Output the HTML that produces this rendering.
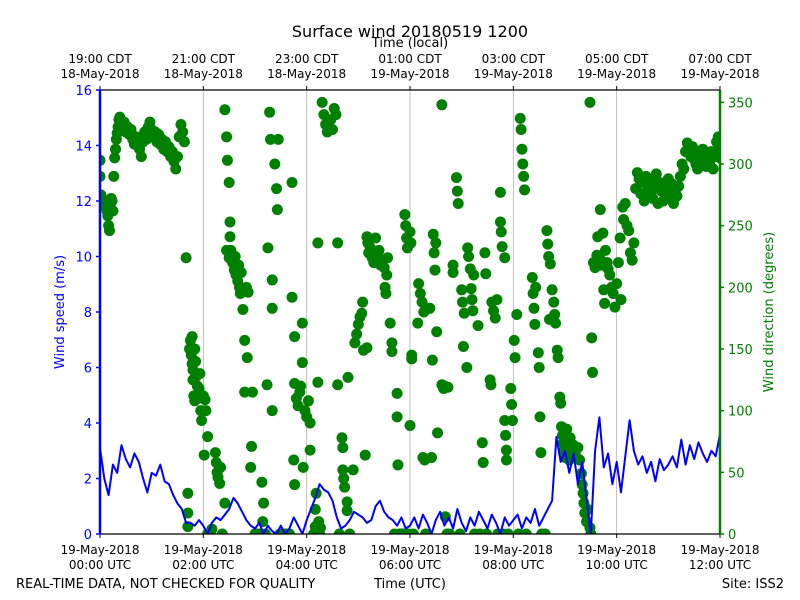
<!DOCTYPE html>
<html><head><meta charset="utf-8"><style>
body{margin:0;background:#fff;}
svg{display:block;font-family:"DejaVu Sans","Liberation Sans",sans-serif;}
</style></head><body>
<svg id="chart" width="800" height="600" viewBox="0 0 800 600" xmlns="http://www.w3.org/2000/svg">
<defs><clipPath id="plotclip"><rect x="100" y="90" width="620" height="444"/></clipPath></defs>
<rect width="800" height="600" fill="#fff"/>
<text x="410" y="37" font-size="16" text-anchor="middle">Surface wind 20180519 1200</text>
<text x="410" y="47" font-size="13" text-anchor="middle">Time (local)</text>
<text x="16" y="588" font-size="13">REAL-TIME DATA, NOT CHECKED FOR QUALITY</text>
<text x="410" y="588" font-size="13" text-anchor="middle">Time (UTC)</text>
<text x="784" y="588" font-size="13" text-anchor="end">Site: ISS2</text>
<text transform="translate(64,312) rotate(-90)" font-size="13" fill="#0000ff" text-anchor="middle">Wind speed (m/s)</text>
<text transform="translate(773,312) rotate(-90)" font-size="13" fill="#008000" text-anchor="middle">Wind direction (degrees)</text>
<g id="grid"></g>
<g id="marks" clip-path="url(#plotclip)"></g>
<g id="axes"></g>
</svg>
<script>
const xTickHours = [0,2,4,6,8,10,12];
const utcLabels = ["00:00 UTC","02:00 UTC","04:00 UTC","06:00 UTC","08:00 UTC","10:00 UTC","12:00 UTC"];
const utcDates = ["19-May-2018","19-May-2018","19-May-2018","19-May-2018","19-May-2018","19-May-2018","19-May-2018"];
const localLabels = ["19:00 CDT","21:00 CDT","23:00 CDT","01:00 CDT","03:00 CDT","05:00 CDT","07:00 CDT"];
const localDates = ["18-May-2018","18-May-2018","18-May-2018","19-May-2018","19-May-2018","19-May-2018","19-May-2018"];
const speedTicks = [0,2,4,6,8,10,12,14,16];
const dirTicks = [0,50,100,150,200,250,300,350];
const speedStepMin = 5;
const speedValues = [3.1,2.0,1.4,2.5,2.2,3.2,2.7,2.4,2.9,2.6,2.0,1.5,
2.2,2.1,2.5,1.9,1.8,1.4,1.1,0.9,0.4,0.4,0.3,0.5,
0.3,0.0,0.4,0.6,0.5,0.7,0.9,1.3,1.1,0.8,0.5,0.3,
0.2,0.4,0.0,0.3,0.1,0.0,0.3,0.0,0.2,0.6,0.3,0.0,
0.5,0.9,1.3,1.8,1.6,1.5,1.2,0.6,0.2,0.3,0.5,0.8,
0.7,0.6,0.4,0.5,1.0,1.2,0.8,0.6,0.5,0.3,0.6,0.2,
0.3,0.6,0.2,0.7,0.4,0.0,0.5,0.8,0.3,0.6,0.2,0.9,
0.4,0.1,0.6,0.3,0.8,0.5,0.2,0.7,0.4,0.0,0.6,0.3,
0.5,0.7,0.2,0.6,0.4,0.9,0.3,0.6,0.9,1.2,3.5,2.6,
3.0,2.2,2.9,1.8,2.6,1.3,0.0,3.0,4.2,2.4,2.9,1.8,
2.6,1.5,2.8,4.1,3.0,2.5,2.8,2.2,2.6,1.9,2.7,2.3,
2.5,2.8,2.4,3.4,2.5,3.2,2.7,3.3,2.9,2.6,3.0,2.8,3.6];
const dirObs = [[0,303],[0,290],[1,275],[2,272],[3,270],[4,268],[5,266],[6,270],[7,265],[8,262],[9,258],[10,250],[11,246],[12,268],[13,272],[14,270],[15,262],[16,290],[17,305],[18,312],[19,320],[20,325],[21,330],[22,336],[23,338],
[24,332],[26,328],[28,334],[30,326],[32,330],[34,324],[36,328],[38,320],[40,316],[42,322],[44,318],[46,312],[48,306],[50,318],[52,326],[54,320],[56,330],[58,334],[60,328],[62,322],[64,326],[66,318],[68,324],[70,316],[72,320],[74,312],[76,318],[78,310],[80,314],[82,306],[84,310],[86,302],[88,296],[90,306],[92,322],[94,332],[96,326],[98,318],
[100,224],[102,6],[102,17],[102,33],[104,150],[105,157],[106,145],[107,160],[107,138],[108,133],[108,125],[109,112],[110,108],[110,150],[111,140],[112,128],[113,120],[114,110],[115,118],[116,130],[117,100],[118,92],[120,112],[121,64],[122,109],[123,100],[125,79],[125,0],[128,0],[130,4],[134,66],[135,58],[136,50],[137,46],[139,41],[140,54],[142,0],[145,25],[145,344],[147,322],[148,303],[150,285],[151,253],[151,241],[147,230],[150,224],[152,230],[154,220],[156,214],[157,225],[158,210],[160,205],[161,218],[162,200],[163,195],[164,212],[166,182],[168,157],[168,115],[170,200],[171,143],[172,196],[175,54],[176,71],[177,115],[180,0],[183,0],[186,0],[188,42],[189,10],[190,25],[192,0],[194,121],[195,232],[197,342],[198,320],[200,206],[200,183],[200,100],[203,300],[205,280],[206,263],[207,320],[209,0],[212,0],[215,0],[218,0],[220,0],[223,285],[223,192],[225,60],[226,160],[226,40],[226,122],[228,110],[230,104],[232,115],[233,120],[235,171],[235,139],[236,54],[238,100],[240,95],[242,108],[244,90],[244,68],[248,0],[250,6],[250,20],[251,33],[253,236],[253,123],[254,10],[255,0],[256,5],[258,350],[260,340],[262,332],[264,326],[266,330],[268,336],[270,328],[272,345],[274,340],[276,236],[276,121],[278,0],[281,78],[282,70],[282,52],[283,45],[284,38],[287,26],[287,19],[288,127],[290,0],[294,52],[296,155],[298,162],[300,170],[302,176],[304,179],[305,188],[306,149],[308,64],[310,151],[310,241],[311,236],[312,228],[314,232],[316,224],[318,220],[320,240],[322,226],[324,230],[326,218],[328,222],[330,216],[331,200],[332,195],[333,210],[334,224],[337,171],[339,155],[339,148],[342,0],[345,114],[345,95],[346,56],[348,0],[350,0],[352,0],[354,259],[355,250],[356,240],[357,232],[358,0],[360,88],[360,245],[361,236],[362,145],[362,142],[364,0],[369,171],[370,203],[372,195],[374,188],[375,62],[376,180],[377,60],[378,0],[383,183],[385,62],[386,141],[387,243],[388,228],[389,214],[390,236],[391,164],[392,82],[397,348],[397,121],[399,118],[400,120],[401,14],[403,0],[404,119],[406,0],[410,218],[410,212],[414,289],[415,278],[416,268],[418,0],[420,198],[421,188],[422,152],[423,179],[426,135],[427,232],[428,225],[430,215],[431,199],[432,190],[433,181],[434,210],[435,0],[439,169],[441,0],[444,74],[445,58],[447,228],[448,211],[449,0],[453,125],[454,121],[455,188],[457,181],[459,175],[461,190],[462,0],[465,277],[465,253],[466,245],[467,233],[468,0],[470,224],[470,92],[471,80],[472,68],[472,60],[474,0],[477,118],[478,105],[479,92],[481,157],[482,143],[484,178],[486,0],[488,337],[489,328],[490,312],[491,300],[492,290],[493,279],[495,0],[502,208],[503,195],[504,183],[505,170],[506,200],[509,147],[510,135],[511,95],[512,66],[513,0],[517,0],[519,246],[520,235],[521,225],[522,174],[523,219],[525,198],[527,188],[528,178],[529,171],[531,149],[532,143],[534,111],[535,106],[536,87],[537,80],[538,74],[539,68],[540,62],[541,75],[542,85],[544,70],[545,60],[546,78],[548,66],[550,72],[552,64],[555,70],[557,60],[559,49],[560,40],[561,33],[562,25],[563,17],[565,10],[566,20],[569,350],[569,5],[570,0],[571,159],[572,131],[573,220],[575,216],[577,226],[578,241],[580,224],[581,263],[582,218],[583,221],[584,244],[585,198],[586,187],[587,230],[589,220],[590,215],[592,210],[594,200],[596,195],[598,184],[600,203],[602,220],[604,240],[605,190],[607,265],[608,255],[610,268],[612,250],[614,246],[616,228],[618,222],[620,236],[622,280],[624,293],[626,288],[628,276],[630,285],[632,270],[634,290],[636,282],[638,275],[640,288],[642,272],[644,280],[646,292],[648,268],[650,285],[652,278],[654,270],[656,282],[658,276],[660,288],[662,272],[664,284],[666,268],[668,278],[670,274],[672,282],[674,290],[676,300],[678,296],[680,310],[682,317],[684,312],[686,306],[688,314],[690,304],[692,300],[694,296],[696,310],[698,306],[700,312],[702,302],[704,298],[706,308],[708,300],[710,310],[712,296],[714,306],[716,318],[718,322],[719,312],[720,305]];

const NS="http://www.w3.org/2000/svg";
const L=100,R=720,T=90,B=534;
function xMin(m){return L+(R-L)*m/720;}
function ySpeed(v){return B-(B-T)*v/16;}
function yDir(d){return B-(B-T)*d/360;}
function mk(tag,attrs,parent){const e=document.createElementNS(NS,tag);for(const k in attrs)e.setAttribute(k,attrs[k]);parent.appendChild(e);return e;}
const grid=document.getElementById('grid'),marks=document.getElementById('marks'),axes=document.getElementById('axes');

xTickHours.forEach((h,i)=>{
  const x=xMin(h*60);
  if(i>0&&i<xTickHours.length-1){const g=mk('line',{x1:x,x2:x,y1:T,y2:B,stroke:'#b0b0b0','stroke-width':0.8},grid);
  
  }
  mk('line',{x1:x,x2:x,y1:B,y2:B+4,stroke:'#000','stroke-width':1},axes);
  mk('line',{x1:x,x2:x,y1:T,y2:T-4,stroke:'#000','stroke-width':1},axes);
  const t1=mk('text',{x:x,y:B+20,'font-size':12,'text-anchor':'middle'},axes);t1.textContent=utcDates[i];
  
  
  const t2=mk('text',{x:x,y:B+35,'font-size':12,'text-anchor':'middle'},axes);t2.textContent=utcLabels[i];
  
  
  const t3=mk('text',{x:x,y:T-27,'font-size':12,'text-anchor':'middle'},axes);t3.textContent=localLabels[i];
  
  
  const t4=mk('text',{x:x,y:T-12,'font-size':12,'text-anchor':'middle'},axes);t4.textContent=localDates[i];
  
  
});

dirObs.forEach(p=>{
  const c=mk('circle',{cx:xMin(p[0]),cy:yDir(p[1]),r:5.5,fill:'#008000'},marks);
  
  
});
const pts=speedValues.map((v,i)=>xMin(i*speedStepMin).toFixed(1)+','+ySpeed(v).toFixed(1)).join(' ');
const line=mk('polyline',{points:pts,fill:'none',stroke:'#0000ff','stroke-width':2,'stroke-linejoin':'round'},marks);



mk('line',{x1:L,x2:R,y1:T,y2:T,stroke:'#000','stroke-width':1.2},axes);
mk('line',{x1:L,x2:R,y1:B,y2:B,stroke:'#000','stroke-width':1.2},axes);
const la=mk('line',{x1:L,x2:L,y1:T,y2:B,stroke:'#0000ff','stroke-width':2.5},axes);


const ra=mk('line',{x1:R,x2:R,y1:T,y2:B,stroke:'#008000','stroke-width':2.5},axes);


speedTicks.forEach(v=>{
  const y=ySpeed(v);
  mk('line',{x1:L-4,x2:L,y1:y,y2:y,stroke:'#0000ff','stroke-width':1.5},axes);
  const t=mk('text',{x:L-8,y:y+5,'font-size':13,'text-anchor':'end',fill:'#0000ff'},axes);t.textContent=v;
  
  
});
dirTicks.forEach(v=>{
  const y=yDir(v);
  mk('line',{x1:R,x2:R+4,y1:y,y2:y,stroke:'#008000','stroke-width':1.5},axes);
  const t=mk('text',{x:R+8,y:y+5,'font-size':13,fill:'#008000'},axes);t.textContent=v;
  
  
});
</script>
</body></html>
